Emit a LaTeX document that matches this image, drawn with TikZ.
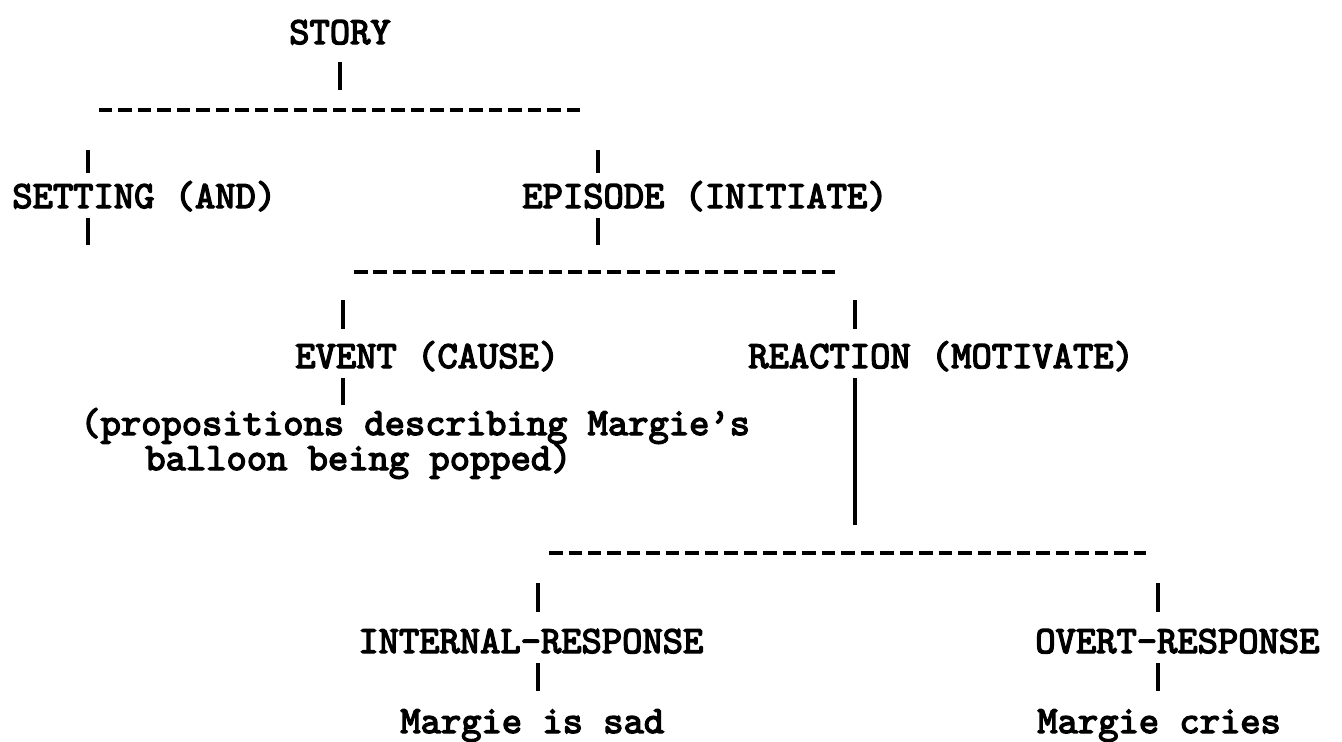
\documentclass[tikz,border=0pt]{standalone}
\usepackage{fontspec}
\newfontfamily\typefont{lmmono10-regular}[Extension=.otf, FakeBold=3.5]

\begin{document}
\begin{tikzpicture}[x=0.02cm, y=-0.02cm,
		txt/.style={font=\typefont\fontsize{22}{26}\selectfont, inner sep=0pt, text height=13.4pt, text depth=0pt, anchor=base west},
		stem/.style={line width=0.075cm},
		rule/.style={line width=0.085cm, dash pattern=on 0.27cm off 0.12cm, shorten <=0.22cm, shorten >=0.24cm}]
			\useasboundingbox (0,0) rectangle (1342,741);
			% rótulos
			\node[txt, anchor=base] (story) at (340,44) {STORY};
			\node[txt] (setting) at (12,208) {SETTING (AND)};
			\node[txt] (episode) at (522,208) {EPISODE (INITIATE)};
			\node[txt] (event) at (295,368) {EVENT (CAUSE)};
			\node[txt] (reaction) at (748,368) {REACTION (MOTIVATE)};
			\node[txt] (props) at (80,435) {(propositions describing Margie’s};
			\node[txt] (propsb) at (145,470) {balloon being popped)};
			\node[txt] (internal) at (358,653) {INTERNAL-RESPONSE};
			\node[txt] (overt) at (1035,653) {OVERT-RESPONSE};
			\node[txt] (sad) at (400,733) {Margie is sad};
			\node[txt] (cries) at (1037,733) {Margie cries};
			% junções
			\coordinate (j0) at (340,110);
			\coordinate (ja) at (88,110);
			\coordinate (jb) at (598,110);
			\coordinate (jb2) at (598,272);
			\coordinate (jc) at (343,272);
			\coordinate (jd) at (855,272);
			\coordinate (jd3) at (855,553);
			\coordinate (je) at (538,553);
			\coordinate (jf) at (1158,553);
			\coordinate (setend) at (88,245);
			% tracejados
			\draw[rule] (ja) -- (jb);
			\draw[rule, shorten >=0.32cm] (jc) -- (jd);
			\draw[rule] (je) -- (jf);
			% hastes
			\draw[stem, shorten <=0.36cm, shorten >=0.4cm] (story) -- (j0);
			\foreach \j/\n in {ja/setting, jb/episode} {
					\draw[stem, shorten <=0.8cm, shorten >=0.22cm] (\j) -- (\j |- \n.north);
				}
			\draw[stem, shorten <=0.2cm] (ja |- setting.south) -- (setend);
			\draw[stem, shorten <=0.2cm, shorten >=0.54cm] (jb |- episode.south) -- (jb2);
			\foreach \j/\n in {jc/event, jd/reaction} {
					\draw[stem, shorten <=0.56cm, shorten >=0.3cm] (\j) -- (\j |- \n.north);
				}
			\draw[stem, shorten <=0.2cm, shorten >=0.12cm] (jc |- event.south) -- (jc |- props.north);
			\draw[stem, shorten <=0.2cm, shorten >=0.56cm] (jd |- reaction.south) -- (jd3);
			\foreach \j/\n in {je/internal, jf/overt} {
					\draw[stem, shorten <=0.6cm, shorten >=0.34cm] (\j) -- (\j |- \n.north);
				}
			\foreach \j/\a/\b in {je/internal/sad, jf/overt/cries} {
					\draw[stem, shorten <=0.2cm, shorten >=0.36cm] (\j |- \a.south) -- (\j |- \b.north);
				}
		\end{tikzpicture}
\end{document}
